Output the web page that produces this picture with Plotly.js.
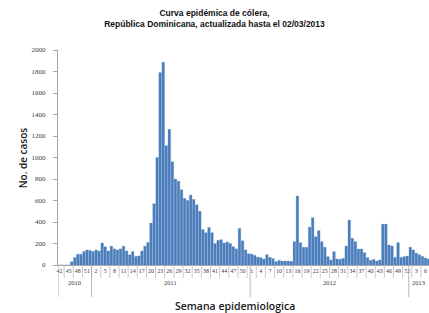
<!DOCTYPE html>
<html>
<head>
<meta charset="utf-8">
<script src="https://cdn.plot.ly/plotly-3.0.1.min.js"></script>
<style>html,body{margin:0;padding:0;background:#fff;}#chart{width:429px;height:313px;}</style>
</head>
<body>
<div id="chart"></div>
<script>
// Epidemiological weeks (tick labels) and weekly cholera cases
const weeks2010 = [42,43,44,45,46,47,48,49,50,51,52];
const cases2010 = [0,0,0,0,30,70,100,100,125,140,135];

const weeks2011 = [1,2,3,4,5,6,7,8,9,10,11,12,13,14,15,16,17,18,19,20,21,22,23,24,25,26,27,28,29,30,31,32,33,34,35,36,37,38,39,40,41,42,43,44,45,46,47,48,49,50,51,52];
const cases2011 = [125,140,130,205,170,130,175,150,140,150,175,130,95,125,80,85,130,175,210,390,570,1000,1790,1886,1110,1262,960,800,780,700,620,600,650,610,560,500,330,300,350,300,200,230,235,205,215,200,170,150,340,225,140,105];

const weeks2012 = [1,2,3,4,5,6,7,8,9,10,11,12,13,14,15,16,17,18,19,20,21,22,23,24,25,26,27,28,29,30,31,32,33,34,35,36,37,38,39,40,41,42,43,44,45,46,47,48,49,50,51,52];
const cases2012 = [102,90,74,68,56,96,71,59,31,43,37,37,37,34,217,642,208,165,165,352,440,264,320,217,165,78,47,124,56,53,62,177,418,248,217,149,149,115,68,43,53,37,47,380,380,186,177,71,208,71,78,84];

const weeks2013 = [1,2,3,4,5,6,7];
const cases2013 = [165,140,110,95,80,65,55];

const yearLabels = ['2010','2011','2012','2013'];
const yTicks = [0,200,400,600,800,1000,1200,1400,1600,1800,2000];

const segments = [
  {year: yearLabels[0], weeks: weeks2010, cases: cases2010},
  {year: yearLabels[1], weeks: weeks2011, cases: cases2011},
  {year: yearLabels[2], weeks: weeks2012, cases: cases2012},
  {year: yearLabels[3], weeks: weeks2013, cases: cases2013}
];

const cats = [], vals = [], wk = [], yearBounds = [];
segments.forEach(s => {
  const start = cats.length;
  s.weeks.forEach((w, j) => { cats.push(s.year + '-' + w); vals.push(s.cases[j]); wk.push(String(w)); });
  yearBounds.push({year: s.year, start: start, end: cats.length - 1});
});

const tickvals = [], ticktext = [];
cats.forEach((c, i) => { if (i % 3 === 0) { tickvals.push(c); ticktext.push(wk[i]); } });

const xMax = 121.14;
const shapes = [];
cats.forEach((c, i) => {
  if (i % 3 === 0 && i > 0) {
    shapes.push({type:'line', xref:'x', yref:'paper', x0:i-1.5, x1:i-1.5, y0:0, y1:-0.06,
      line:{color:'#bdbdbd', width:0.8}});
  }
});
yearBounds.forEach(b => {
  shapes.push({type:'line', xref:'x', yref:'paper', x0:b.start-0.5, x1:b.start-0.5, y0:0, y1:-0.15,
    line:{color:'#a6a6a6', width:0.8}});
});

const annotations = yearBounds.map(b => ({
  xref:'x', yref:'paper', x:(b.start - 0.5 + Math.min(b.end + 0.5, xMax)) / 2, y:-0.105,
  text:b.year, showarrow:false, font:{family:'Liberation Serif, serif', size:6.5, color:'#404040'}
}));
annotations.push({xref:'paper', yref:'paper', x:0.478, xanchor:'center', y:-0.19, yanchor:'middle', showarrow:false,
  text:'Semana epidemiologica', font:{family:'Open Sans, sans-serif', size:10.5, weight:600, color:'#1a1a1a'}});
annotations.push({xref:'paper', yref:'paper', x:-0.095, xanchor:'center', y:0.5, yanchor:'middle', textangle:-90, showarrow:false,
  text:'No. de casos', font:{family:'Open Sans, sans-serif', size:10, weight:600, color:'#1a1a1a'}});

const trace = {type:'bar', x:cats, y:vals, marker:{color:'#4a7dbb', line:{color:'#5b8cc6', width:0.3}}};

const layout = {
  width:429, height:313,
  margin:{l:58, r:0, t:50, b:48},
  paper_bgcolor:'#fff', plot_bgcolor:'#fff',
  bargap:0.15,
  showlegend:false,
  title:{text:'<b>Curva epidémica de cólera,<br>República Dominicana, actualizada hasta el 02/03/2013</b>',
    font:{family:'Liberation Sans, Arial, sans-serif', size:8.5, color:'#111'},
    x:0.5, xref:'container', xanchor:'center', y:0.95, yref:'container', yanchor:'middle'},
  xaxis:{type:'category', range:[-0.5, xMax], tickmode:'array', tickvals:tickvals, ticktext:ticktext,
    tickangle:0, ticks:'', showline:true, linecolor:'#a6a6a6', linewidth:1, showgrid:false, zeroline:false,
    tickfont:{family:'Liberation Serif, serif', size:6, color:'#404040'}},
  yaxis:{range:[0,2000], tickmode:'array', tickvals:yTicks, ticks:'outside', ticklen:4, tickcolor:'#a6a6a6',
    showline:true, linecolor:'#a6a6a6', linewidth:1, showgrid:false, zeroline:false, ticklabelstandoff:6,
    tickfont:{family:'Liberation Serif, serif', size:7, color:'#404040'}},
  shapes:shapes, annotations:annotations
};

Plotly.newPlot('chart', [trace], layout, {displayModeBar:false, staticPlot:true});
</script>
</body>
</html>
